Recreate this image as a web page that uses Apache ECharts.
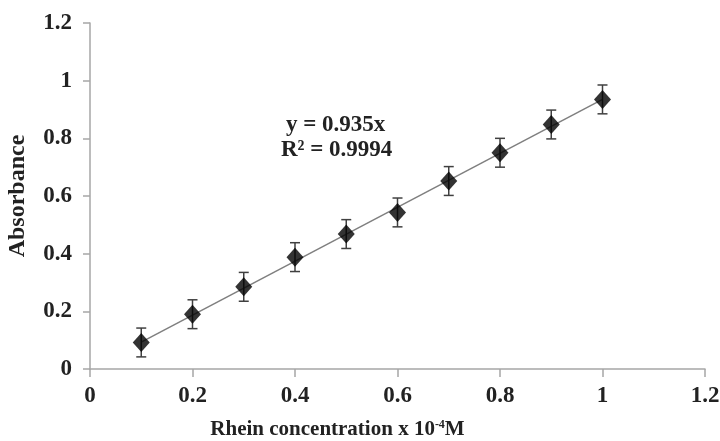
<!DOCTYPE html>
<html>
<head>
<meta charset="utf-8">
<script src="https://cdn.jsdelivr.net/npm/echarts@6/dist/echarts.min.js"></script>
<style>
  html, body { margin: 0; padding: 0; background: #fff; }
  #chart { width: 720px; height: 441px; }
</style>
</head>
<body>
<div id="chart"></div>
<script>
// concentration (x 10^-4 M) and absorbance
const conc = [0.1, 0.2, 0.3, 0.4, 0.5, 0.6, 0.7, 0.8, 0.9, 1.0]
const absorbance = [0.092, 0.19, 0.285, 0.388, 0.468, 0.543, 0.652, 0.75, 0.848, 0.935]
const errors = [0.05, 0.05, 0.05, 0.05, 0.05, 0.05, 0.05, 0.05, 0.05, 0.05]
const slope = 0.935
const trendX = [0.1, 1.0]
const ticksX = [0, 0.2, 0.4, 0.6, 0.8, 1, 1.2]
const ticksY = [0, 0.2, 0.4, 0.6, 0.8, 1, 1.2]

const font = 'Liberation Serif, Times New Roman, serif'
const axisGray = '#a6a6a6'

const chart = echarts.init(document.getElementById('chart'))

const points = conc.map((x, i) => [x, absorbance[i]])
const bars = conc.map((x, i) => [x, absorbance[i] - errors[i], absorbance[i] + errors[i]])
const trend = trendX.map(x => [x, +(slope * x).toFixed(4)])

const option = {
  animation: false,
  grid: { left: 90, right: 15, top: 23, bottom: 72, containLabel: false, outerBoundsMode: 'none' },
  xAxis: {
    type: 'value',
    min: ticksX[0],
    max: ticksX[ticksX.length - 1],
    interval: 0.2,
    name: '{n|Rhein concentration x 10}{s|-4}{n|M}',
    nameLocation: 'middle',
    nameGap: 50,
    nameTextStyle: {
      padding: [0, 120, 0, 0],
      rich: {
        n: { fontFamily: font, fontWeight: 'bold', fontSize: 21, color: '#222' },
        s: { fontFamily: font, fontWeight: 'bold', fontSize: 12, color: '#222', verticalAlign: 'top', padding: [0, 0, 8, 0] }
      }
    },
    axisLine: { lineStyle: { color: axisGray, width: 1.5 } },
    axisTick: { show: true, length: 8, lineStyle: { color: axisGray, width: 1.5 } },
    splitLine: { show: false },
    axisLabel: {
      margin: 16,
      fontFamily: font, fontWeight: 'bold', fontSize: 23, color: '#222',
      formatter: v => String(+v.toFixed(1))
    }
  },
  yAxis: {
    type: 'value',
    min: ticksY[0],
    max: ticksY[ticksY.length - 1],
    interval: 0.2,
    name: 'Absorbance',
    nameLocation: 'middle',
    nameGap: 60,
    nameTextStyle: { fontFamily: font, fontWeight: 'bold', fontSize: 24, color: '#222' },
    axisLine: { show: true, lineStyle: { color: axisGray, width: 1.5 } },
    axisTick: { show: true, length: 7, lineStyle: { color: axisGray, width: 1.5 } },
    splitLine: { show: false },
    axisLabel: {
      margin: 18,
      fontFamily: font, fontWeight: 'bold', fontSize: 23, color: '#222',
      formatter: v => String(+v.toFixed(1))
    }
  },
  series: [
    {
      type: 'line',
      data: trend,
      symbol: 'none',
      lineStyle: { color: '#7f7f7f', width: 1.5 },
      z: 1
    },
    {
      type: 'custom',
      data: bars,
      z: 2,
      renderItem: function (params, api) {
        const x = api.value(0)
        const lo = api.coord([x, api.value(1)])
        const hi = api.coord([x, api.value(2)])
        const cap = 5
        const style = { stroke: '#404040', lineWidth: 1.5 }
        return {
          type: 'group',
          children: [
            { type: 'line', shape: { x1: lo[0], y1: lo[1], x2: hi[0], y2: hi[1] }, style },
            { type: 'line', shape: { x1: lo[0] - cap, y1: lo[1], x2: lo[0] + cap, y2: lo[1] }, style },
            { type: 'line', shape: { x1: hi[0] - cap, y1: hi[1], x2: hi[0] + cap, y2: hi[1] }, style }
          ]
        }
      }
    },
    {
      type: 'scatter',
      data: points,
      symbol: 'diamond',
      symbolSize: [17, 19],
      itemStyle: { color: '#000' },
      z: 3
    }
  ],
  graphic: [
    {
      type: 'text',
      left: 286,
      top: 114,
      style: {
        text: 'y = 0.935x',
        font: 'bold 23px ' + font,
        fill: '#222'
      }
    },
    {
      type: 'text',
      left: 281,
      top: 139,
      style: {
        text: 'R² = 0.9994',
        font: 'bold 23px ' + font,
        fill: '#222'
      }
    }
  ]
}

option && chart.setOption(option)

window.addEventListener('resize', function () {
  chart.resize()
})
</script>
</body>
</html>
